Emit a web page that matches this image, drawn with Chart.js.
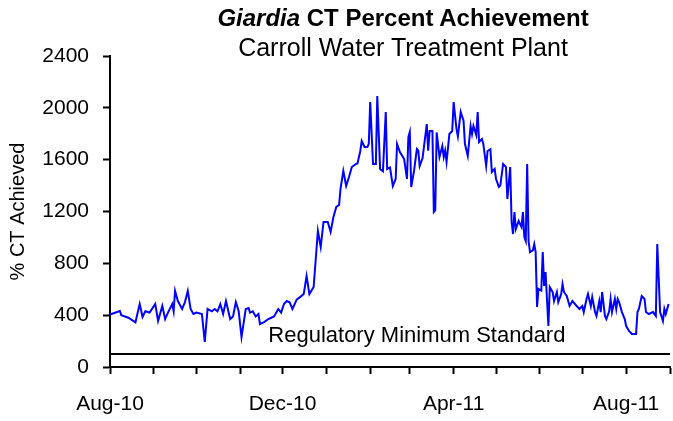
<!DOCTYPE html>
<html>
<head>
<meta charset="utf-8">
<title>Giardia CT Percent Achievement</title>
<script src="https://cdn.jsdelivr.net/npm/chart.js@4.4.0/dist/chart.umd.min.js"></script>
<style>
    body { margin: 0; background: #fff; }
    #wrap { position: relative; width: 673px; height: 421px; overflow: hidden; font-family: "Liberation Sans", Arial, sans-serif; color: #000; }
    #title, #sub { position: absolute; left: 133px; width: 540px; text-align: center; white-space: nowrap; }
    #title { top: 4px; font-size: 24px; font-weight: bold; line-height: 28px; }
    #sub { top: 33px; font-size: 25px; line-height: 28px; }
    canvas { position: absolute; left: 0; top: 0; }
</style>
</head>
<body>
<div id="wrap">
    <canvas id="ctChart" width="673" height="421"></canvas>
    <div id="title"><i>Giardia</i> CT Percent Achievement</div>
    <div id="sub">Carroll Water Treatment Plant</div>
</div>
<script>
// days counted from 1 Aug 2010
const dayIdx = [0,1,7,8,13,18,21,23,25,28,32,34,37,39,41,44,45,46,48,51,53,55,57,59,61,65,67,69,72,74,76,78,80,82,85,87,89,91,93,96,98,99,101,103,105,106,109,112,114,116,119,121,123,125,127,129,132,135,137,139,141,144,147,149,151,154,156,158,160,162,163,165,167,169,171,174,175,177,178,180,182,183,184,186,188,189,191,193,195,196,198,200,202,203,205,208,210,211,212,213,215,217,218,219,221,224,225,226,228,229,230,231,233,235,236,237,238,240,242,243,245,246,248,250,251,253,255,256,257,259,260,261,263,264,266,267,269,270,272,273,275,276,278,280,281,283,284,285,286,287,289,291,292,293,294,295,296,297,299,300,301,302,303,305,306,307,308,310,311,313,314,316,317,319,320,321,323,325,327,330,332,334,335,337,338,340,341,343,344,346,347,348,350,351,353,354,355,357,358,359,360,362,364,365,367,369,372,373,374,376,378,379,381,384,386,387,389,391,392,393,395];
const ctValues = [405,409,432,400,380,345,486,386,430,420,486,355,471,370,420,486,430,587,509,448,501,587,448,409,420,409,193,448,430,448,430,486,409,509,370,390,501,430,231,448,455,420,430,390,409,332,347,370,380,390,448,420,486,509,500,448,520,545,563,702,563,617,1050,926,1119,1119,1042,1158,1235,1250,1374,1513,1397,1466,1543,1567,1570,1667,1744,1698,1698,1721,2045,1567,1567,2091,1528,1510,1968,1528,1540,1397,1451,1721,1659,1605,1451,1775,1813,1389,1513,1682,1670,1551,1610,1875,1670,1821,1821,1196,1210,1810,1621,1705,1621,1670,1582,1798,1821,2045,1837,1780,1968,1900,1721,1629,1860,1798,1860,1790,1968,1736,1760,1721,1551,1667,1680,1505,1528,1451,1389,1400,1567,1543,1297,1543,1119,1026,1196,1065,1127,1080,1196,1003,972,1567,972,887,900,949,887,463,602,590,887,625,733,316,617,579,509,579,501,560,640,579,548,471,509,471,448,471,424,525,563,471,540,424,394,509,424,579,394,370,430,525,424,525,448,525,501,424,370,316,278,255,255,424,448,548,525,424,409,424,394,949,424,355,448,409,486];

const regMinimum = 100;
const regText = 'Regulatory Minimum Standard';

const monthStarts = [0,31,61,92,122,153,184,212,243,273,304,334,365,396];
const labelDays = [0,122,243,365];
const labelText = ['Aug-10','Dec-10','Apr-11','Aug-11'];

Chart.defaults.font.family = '"Liberation Sans", Arial, sans-serif';
Chart.defaults.color = '#000';

const regLabel = {
    id: 'regLabel',
    afterDatasetsDraw(chart) {
        const ctx = chart.ctx;
        const x = chart.scales.x, y = chart.scales.y;
        ctx.save();
        ctx.font = '22px "Liberation Sans", Arial, sans-serif';
        ctx.fillStyle = '#000';
        ctx.textAlign = 'center';
        ctx.textBaseline = 'middle';
        ctx.fillText(regText, x.getPixelForValue(217), y.getPixelForValue(240));
        ctx.restore();
    }
};

const ctx = document.getElementById('ctChart').getContext('2d');
let ctChart = new Chart(ctx, {
    type: 'line',
    data: {
        datasets: [{
            label: 'CT Achieved',
            data: dayIdx.map((d, i) => ({ x: d, y: ctValues[i] })),
            borderColor: '#0000ff',
            borderWidth: 2,
            pointRadius: 0,
            tension: 0
        }, {
            label: 'Regulatory Minimum',
            data: [{ x: 0, y: regMinimum }, { x: 396, y: regMinimum }],
            borderColor: '#000',
            borderWidth: 2,
            pointRadius: 0
        }]
    },
    options: {
        responsive: false,
        animation: false,
        layout: { padding: { top: 56, right: 3, left: 0, bottom: 0 } },
        plugins: { legend: { display: false }, tooltip: { enabled: false } },
        scales: {
            x: {
                type: 'linear',
                min: 0,
                max: 396,
                afterBuildTicks: s => { s.ticks = monthStarts.map(v => ({ value: v })); },
                afterFit: s => { s.height = 54; s.paddingLeft = 0; s.paddingRight = 0; },
                ticks: {
                    autoSkip: false,
                    maxRotation: 0,
                    padding: 18,
                    font: { size: 21 },
                    callback: v => {
                        const i = labelDays.indexOf(v);
                        return i < 0 ? '' : labelText[i];
                    }
                },
                grid: { drawOnChartArea: false, tickLength: 7, tickWidth: 2, tickColor: '#000' },
                border: { color: '#000', width: 2 }
            },
            y: {
                min: 0,
                max: 2400,
                afterFit: s => { s.width = 110; },
                ticks: { stepSize: 400, padding: 14, font: { size: 21 }, callback: v => String(v) },
                grid: { drawOnChartArea: false, tickLength: 7, tickWidth: 2, tickColor: '#000' },
                border: { color: '#000', width: 2 },
                title: { display: true, text: '% CT Achieved', font: { size: 20 }, padding: { top: 6, bottom: 0 } }
            }
        }
    },
    plugins: [regLabel]
});
</script>
</body>
</html>
